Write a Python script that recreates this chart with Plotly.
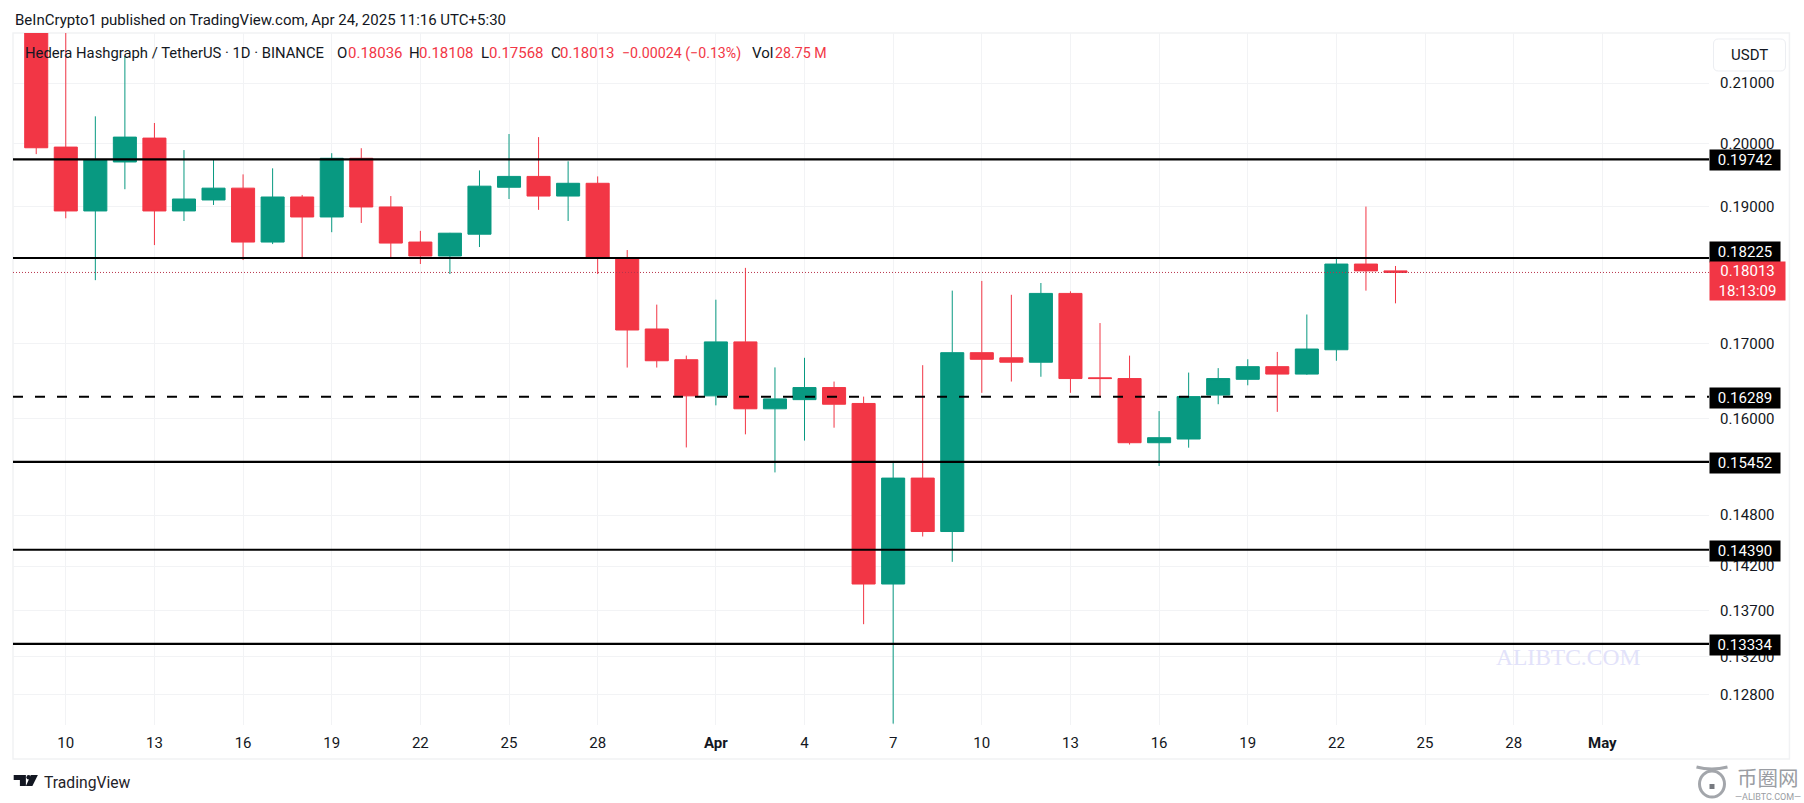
import math
import pandas as pd
import plotly.graph_objects as go

W, H = 1804, 803
L, R, T, B = 12.6, 1709.5, 33, 725

dates = pd.date_range("2025-03-09", periods=47, freq="D")
opens = [0.2250, 0.19938, 0.18933, 0.19699, 0.20084, 0.18933, 0.19102, 0.19286, 0.18462, 0.19148, 0.18841, 0.19758,
         0.18994, 0.18462, 0.18255, 0.18580, 0.19300, 0.19470, 0.19163, 0.19362, 0.18220, 0.17207, 0.16784,
         0.16300, 0.17028, 0.16130, 0.16250, 0.16410, 0.16200, 0.13996, 0.15250, 0.14604, 0.16880, 0.16810, 0.16750,
         0.17710, 0.16540, 0.16530, 0.15693, 0.15740, 0.16310, 0.16520, 0.16690, 0.16590, 0.16920, 0.18136, 0.18036]
closes = [0.19927, 0.18933, 0.19730, 0.20100, 0.18933, 0.19117, 0.19286, 0.18462, 0.19148, 0.18841, 0.19758, 0.18994,
          0.18447, 0.18255, 0.18595, 0.19317, 0.19470, 0.19163, 0.19362, 0.18230, 0.17193, 0.16770, 0.16300,
          0.17028, 0.16130, 0.16260, 0.16410, 0.16190, 0.13996, 0.15250, 0.14604, 0.16880, 0.16790, 0.16750, 0.17710,
          0.16530, 0.16530, 0.15693, 0.15757, 0.16290, 0.16530, 0.16690, 0.16590, 0.16930, 0.18136, 0.18036, 0.18013]
highs = [0.2300, 0.2200, 0.20441, 0.21464, 0.20331, 0.19890, 0.19730, 0.19502, 0.19598, 0.19180, 0.19840, 0.19920,
         0.19163, 0.18630, 0.18600, 0.19565, 0.20150, 0.20100, 0.19710, 0.19470, 0.18343, 0.17550, 0.16840,
         0.17620, 0.18080, 0.16680, 0.16810, 0.16490, 0.16290, 0.15460, 0.16710, 0.17750, 0.17890, 0.17690, 0.17860,
         0.17740, 0.17290, 0.16840, 0.16100, 0.16610, 0.16670, 0.16790, 0.16890, 0.17410, 0.18220, 0.19000, 0.18108]
lows = [0.19825, 0.18821, 0.17901, 0.19269, 0.18417, 0.18780, 0.19025, 0.18195, 0.18432, 0.18220, 0.18610, 0.18750,
        0.18235, 0.18137, 0.17990, 0.18388, 0.19117, 0.18950, 0.18780, 0.17990, 0.16678, 0.16678, 0.15633,
        0.16175, 0.15800, 0.15320, 0.15720, 0.15885, 0.13548, 0.12500, 0.14545, 0.14250, 0.16340, 0.16490, 0.16554,
        0.16340, 0.16280, 0.15670, 0.15400, 0.15630, 0.16190, 0.16440, 0.16090, 0.16580, 0.16770, 0.17750, 0.17568]

price_ticks = [0.21, 0.20, 0.19, 0.17, 0.16, 0.148, 0.142, 0.137, 0.132, 0.128]
price_labels = ["0.21000", "0.20000", "0.19000", "0.17000", "0.16000", "0.14800", "0.14200", "0.13700", "0.13200", "0.12800"]
date_ticks = ["2025-03-10", "2025-03-13", "2025-03-16", "2025-03-19", "2025-03-22", "2025-03-25", "2025-03-28",
              "2025-04-01", "2025-04-04", "2025-04-07", "2025-04-10", "2025-04-13", "2025-04-16", "2025-04-19",
              "2025-04-22", "2025-04-25", "2025-04-28", "2025-05-01"]
date_labels = ["10", "13", "16", "19", "22", "25", "28", "<b>Apr</b>", "4", "7", "10", "13", "16", "19", "22", "25", "28", "<b>May</b>"]

solid_levels = [0.19742, 0.18225, 0.15452, 0.14390, 0.13334]
dashed_levels = [0.16289]
last_close = 0.18013
countdown = "18:13:09"

RED, GREEN, INK = "#F23645", "#089981", "#131722"
FONT = "Roboto"
GRID = "#F2F3F5"
FS = 15


def px(x):
    return (x - L) / (R - L)


def py(y):
    return (B - y) / (B - T)


def text(x, y, s, size=FS, color=INK, anchor="left", family=FONT, **kw):
    return dict(text=s, x=px(x), y=py(y), xref="paper", yref="paper", xanchor=anchor, yanchor="middle",
                showarrow=False, font=dict(size=size, color=color, family=family), **kw)


def pth(*pts):
    out = []
    for p in pts:
        if p[0] == "Q":
            out.append(f"Q{px(p[1]):.5f},{py(p[2]):.5f} {px(p[3]):.5f},{py(p[4]):.5f}")
        else:
            out.append(f"{p[0]}{px(p[1]):.5f},{py(p[2]):.5f}")
    return " ".join(out)


fig = go.Figure(go.Candlestick(
    x=dates, open=opens, high=highs, low=lows, close=closes,
    increasing=dict(line=dict(color=GREEN, width=1), fillcolor=GREEN),
    decreasing=dict(line=dict(color=RED, width=1), fillcolor=RED),
    whiskerwidth=0, hoverinfo="skip", showlegend=False,
))

shapes = []
for lv in solid_levels:
    shapes.append(dict(type="line", xref="paper", yref="y", x0=0, x1=1, y0=lv, y1=lv,
                       line=dict(color="#000000", width=2.2)))
for lv in dashed_levels:
    shapes.append(dict(type="line", xref="paper", yref="y", x0=0, x1=1, y0=lv, y1=lv,
                       line=dict(color="#000000", width=2, dash="10px,12px")))
shapes.append(dict(type="line", xref="paper", yref="y", x0=0, x1=1, y0=last_close, y1=last_close,
                   line=dict(color="#B8354C", width=1, dash="1px,2px")))
# frame around the chart
shapes.append(dict(type="rect", xref="paper", yref="paper", x0=px(12.6), x1=px(1790), y0=py(759), y1=py(33),
                   line=dict(color="#F1F2F4", width=1.5), layer="below"))
# USDT button
x0, x1, y0, y1, r = 1714, 1786, 39, 71, 5
usdt = pth(("M", x0 + r, y0), ("L", x1 - r, y0), ("Q", x1, y0, x1, y0 + r), ("L", x1, y1 - r), ("Q", x1, y1, x1 - r, y1),
           ("L", x0 + r, y1), ("Q", x0, y1, x0, y1 - r), ("L", x0, y0 + r), ("Q", x0, y0, x0 + r, y0)) + " Z"
shapes.append(dict(type="path", xref="paper", yref="paper", path=usdt, fillcolor="#FFFFFF", line=dict(color="#ECEEF2", width=1)))
# TradingView mark
tv1 = pth(("M", 13.3, 775), ("L", 25.5, 775), ("L", 25.5, 786), ("L", 19.5, 786), ("L", 19.5, 780), ("L", 13.3, 780)) + " Z"
tv2 = pth(("M", 30.5, 775), ("L", 37.5, 775), ("L", 32, 786), ("L", 25.5, 786)) + " Z"
for p in (tv1, tv2):
    shapes.append(dict(type="path", xref="paper", yref="paper", path=p, fillcolor="#131722", line=dict(width=0)))
shapes.append(dict(type="circle", xref="paper", yref="paper", x0=px(26), x1=px(30.5), y0=py(779.5), y1=py(775),
                   fillcolor="#131722", line=dict(width=0)))
# coin icon of the corner logo
LOGO = "#A3A6AB"
shapes.append(dict(type="circle", xref="paper", yref="paper", x0=px(1700), x1=px(1725), y0=py(797), y1=py(771),
                   line=dict(color=LOGO, width=3)))
swoosh = pth(("M", 1697, 767), ("Q", 1712, 771, 1728, 767))
shapes.append(dict(type="path", xref="paper", yref="paper", path=swoosh, line=dict(color=LOGO, width=3)))
shapes.append(dict(type="rect", xref="paper", yref="paper", x0=px(1710), x1=px(1715), y0=py(789), y1=py(784),
                   fillcolor="#777A80", line=dict(width=0)))

ann = [
    text(13, 20, "BeInCrypto1 published on TradingView.com, Apr 24, 2025 11:16 UTC+5:30", size=15),
    text(23, 53, "Hedera Hashgraph / TetherUS · 1D · BINANCE", size=14.8),
    text(335, 53, "O"), text(346, 53, "0.18036", color=RED),
    text(407, 53, "H"), text(417, 53, "0.18108", color=RED),
    text(479, 53, "L"), text(487, 53, "0.17568", color=RED),
    text(549, 53, "C"), text(558, 53, "0.18013", color=RED),
    text(620, 53, "−0.00024 (−0.13%)", size=14.2, color=RED),
    text(750, 53, "Vol"), text(773, 53, "28.75 M", size=14.2, color=RED),
    text(1750, 55, "USDT", anchor="center"),
    text(42, 782, "TradingView", size=15.7, color="#1f2329"),
    text(1494, 657, "ALIBTC.COM", size=23.5, color="#E2E2FA", family="Liberation Serif"),
    text(1769, 777, "币圈网", size=20.5, color="#9A9DA3", anchor="center", family="Noto Sans CJK SC"),
    text(1769, 796.5, "—ALIBTC.COM—", size=9, color="#9A9DA3", anchor="center"),
]

shift = {0.18225: 6.5}
for lv in solid_levels + dashed_levels:
    ann.append(dict(text=f"{lv:.5f}", x=1.0, y=math.log10(lv), xref="paper", yref="y", xanchor="left", yanchor="middle",
                    showarrow=False, bgcolor="#000000", width=70, height=20, borderpad=0, align="center",
                    yshift=shift.get(lv, -1), font=dict(size=FS, color="#FFFFFF", family=FONT)))
ann.append(dict(text=f"{last_close:.5f}<br>{countdown}", x=1.0, y=math.log10(last_close), xref="paper", yref="y",
                xanchor="left", yanchor="middle", showarrow=False, bgcolor=RED, width=75, height=38, borderpad=0,
                align="center", yshift=-9, font=dict(size=FS, color="#FFFFFF", family=FONT)))

fig.update_layout(
    width=W, height=H, autosize=False,
    margin=dict(l=L, r=W - R, t=T, b=H - B, pad=0),
    paper_bgcolor="#FFFFFF", plot_bgcolor="#FFFFFF",
    font=dict(family=FONT, size=FS, color=INK),
    showlegend=False, shapes=shapes, annotations=ann, boxgap=0.22, boxgroupgap=0,
    xaxis=dict(type="date", rangeslider=dict(visible=False),
               range=["2025-03-08 05:08", "2025-05-04 14:38"],
               tickmode="array", tickvals=date_ticks, ticktext=date_labels, tickangle=0,
               showgrid=True, gridcolor=GRID, gridwidth=1, zeroline=False, showline=False, ticks="",
               ticklabelstandoff=7, tickfont=dict(size=FS, color=INK, family=FONT)),
    yaxis=dict(type="log", side="right", range=[math.log10(0.12486), math.log10(0.21868)],
               tickmode="array", tickvals=price_ticks, ticktext=price_labels,
               showgrid=True, gridcolor=GRID, gridwidth=1, zeroline=False, showline=False, ticks="",
               ticklabelstandoff=10, tickfont=dict(size=FS, color=INK, family=FONT)),
)

fig.write_html("out.html", config={"displayModeBar": False},
               post_script="document.body.style.margin='0';document.body.style.overflow='hidden';")
